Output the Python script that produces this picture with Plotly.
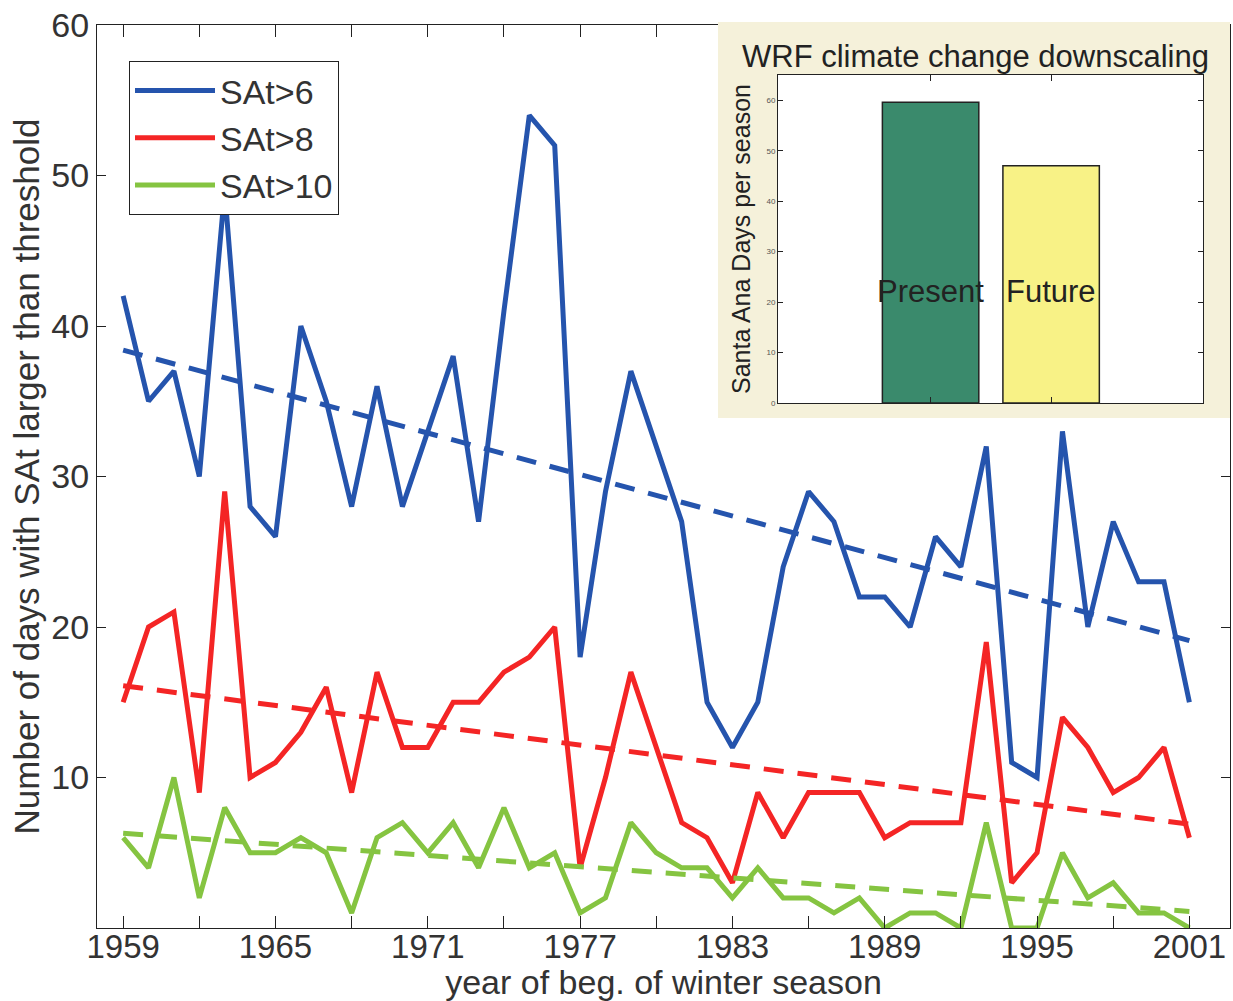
import plotly.graph_objects as go

# ---------------- data ----------------
years = list(range(1959, 2002))
sat6 = [42, 35, 37, 30, 49, 28, 26, 40, 35, 28, 36, 28, 33, 38, 27, 41, 54, 52, 18, 29,
        37, 32, 27, 15, 12, 15, 24, 29, 27, 22, 22, 20, 26, 24, 32, 11, 10, 33, 20, 27,
        23, 23, 15]
sat8 = [15, 20, 21, 9, 29, 10, 11, 13, 16, 9, 17, 12, 12, 15, 15, 17, 18, 20, 4, 10,
        17, 12, 7, 6, 3, 9, 6, 9, 9, 9, 6, 7, 7, 7, 19, 3, 5, 14, 12, 9,
        10, 12, 6]
sat10 = [6, 4, 10, 2, 8, 5, 5, 6, 5, 1, 6, 7, 5, 7, 4, 8, 4, 5, 1, 2,
         7, 5, 4, 4, 2, 4, 2, 2, 1, 2, 0, 1, 1, 0, 7, 0, 0, 5, 2, 3,
         1, 1, 0]
series_names = ["SAt>6", "SAt>8", "SAt>10"]

trend_years = [1959, 2001]
trend6 = [38.4, 19.1]
trend8 = [16.1, 6.9]
trend10 = [6.3, 1.1]

x_tick_years = list(range(1959, 2002, 3))
x_tick_labels = [str(y) if (y - 1959) % 6 == 0 else "" for y in x_tick_years]
y_ticks = [10, 20, 30, 40, 50, 60]

inset_categories = ["Present", "Future"]
inset_positions = [1, 2]
inset_values = [59.6, 47.0]
inset_label_level = 22
inset_y_ticks = [0, 10, 20, 30, 40, 50, 60]

# ---------------- style ----------------
BLUE = "#2554ad"
RED = "#f42525"
GREEN = "#85c441"
PRESENT = "#3a8a6c"
FUTURE = "#f8f286"
PANEL = "#f5f1da"
TXT = "#333333"
FONT = "Liberation Sans, Arial, Helvetica, sans-serif"

fig = go.Figure()

for vals, name, col in [(sat6, series_names[0], BLUE), (sat8, series_names[1], RED),
                        (sat10, series_names[2], GREEN)]:
    fig.add_trace(go.Scatter(x=years, y=vals, mode="lines", name=name,
                             line=dict(color=col, width=5)))

for vals, col in [(trend6, BLUE), (trend8, RED), (trend10, GREEN)]:
    fig.add_trace(go.Scatter(x=trend_years, y=vals, mode="lines", showlegend=False,
                             line=dict(color=col, width=5, dash="20px,14px")))

# inset bars
fig.add_trace(go.Bar(x=inset_positions, y=inset_values, width=0.8,
                     marker=dict(color=[PRESENT, FUTURE], line=dict(color="#222222", width=1.5)),
                     xaxis="x3", yaxis="y3", showlegend=False))

W, H = 1233, 1001
ML, MR, MT, MB = 97, 3, 22, 73
PW = W - ML - MR
PH = H - MT - MB


def px_x(x):
    return (x - ML) / PW


def px_y(y):
    return (H - MB - y) / PH


annotations = [
    dict(text="WRF climate change downscaling", xref="paper", yref="paper",
         x=px_x(975), y=px_y(57), showarrow=False, xanchor="center", yanchor="middle",
         font=dict(size=31, color="#222222", family=FONT)),
]
for pos, cat in zip(inset_positions, inset_categories):
    annotations.append(dict(text=cat, xref="x3", yref="y3", x=pos, y=inset_label_level,
                            showarrow=False, xanchor="center", yanchor="middle",
                            font=dict(size=31, color="#222222", family=FONT)))

fig.update_layout(
    width=W, height=H,
    margin=dict(l=ML, r=MR, t=MT, b=MB, autoexpand=False),
    paper_bgcolor="white", plot_bgcolor="white",
    font=dict(family=FONT, color=TXT),
    showlegend=True,
    legend=dict(x=px_x(129), y=px_y(61), xanchor="left", yanchor="top",
                bordercolor="#222222", borderwidth=1, bgcolor="white",
                font=dict(size=34, color=TXT, family=FONT), itemwidth=80,
                tracegroupgap=0),
    xaxis=dict(domain=[0, 1], range=[1957.97, 2002.6], anchor="y",
               tickmode="array", tickvals=x_tick_years, ticktext=x_tick_labels,
               ticks="inside", ticklen=12, tickcolor="#222222", showline=True,
               linecolor="#222222", linewidth=1, mirror="ticks", showgrid=False,
               zeroline=False, tickfont=dict(size=33, color=TXT), ticklabelstandoff=-11,
               title=dict(text="year of beg. of winter season", font=dict(size=34, color=TXT),
                          standoff=8)),
    yaxis=dict(domain=[0, px_y(25)], range=[0, 60], anchor="x",
               tickmode="array", tickvals=y_ticks,
               ticks="inside", ticklen=9, tickcolor="#222222", showline=True,
               linecolor="#222222", linewidth=1, mirror="ticks", showgrid=False,
               zeroline=False, tickfont=dict(size=34, color=TXT),
               title=dict(text="Number of days with SAt larger than threshold",
                          font=dict(size=35, color=TXT), standoff=1)),
    xaxis2=dict(domain=[px_x(718), 1], range=[0, 1], anchor="y2", visible=False),
    yaxis2=dict(domain=[px_y(418), 1], range=[0, 1], anchor="x2", visible=False),
    xaxis3=dict(domain=[px_x(778), px_x(1203)], range=[-0.266, 3.26], anchor="y3",
                tickmode="array", tickvals=inset_positions, showticklabels=False,
                ticks="inside", ticklen=6, tickcolor="#222222", showline=True,
                linecolor="#222222", linewidth=1, mirror="ticks", showgrid=False,
                zeroline=False),
    yaxis3=dict(domain=[px_y(403), px_y(75)], range=[0, 65], anchor="x3",
                tickmode="array", tickvals=inset_y_ticks,
                ticks="inside", ticklen=5, tickcolor="#222222", showline=True,
                linecolor="#222222", linewidth=1, mirror="ticks", showgrid=False,
                zeroline=False, tickfont=dict(size=8, color="#555555"),
                title=dict(text="Santa Ana Days per season",
                           font=dict(size=25, color="#222222"), standoff=8)),
    shapes=[dict(type="rect", xref="x2", yref="y2", x0=0, x1=1, y0=0, y1=1,
                 layer="below", fillcolor=PANEL, line=dict(width=0))],
    annotations=annotations,
)

fig.write_html("out.html", config={"displayModeBar": False},
               post_script="document.body.style.margin='0px';")
